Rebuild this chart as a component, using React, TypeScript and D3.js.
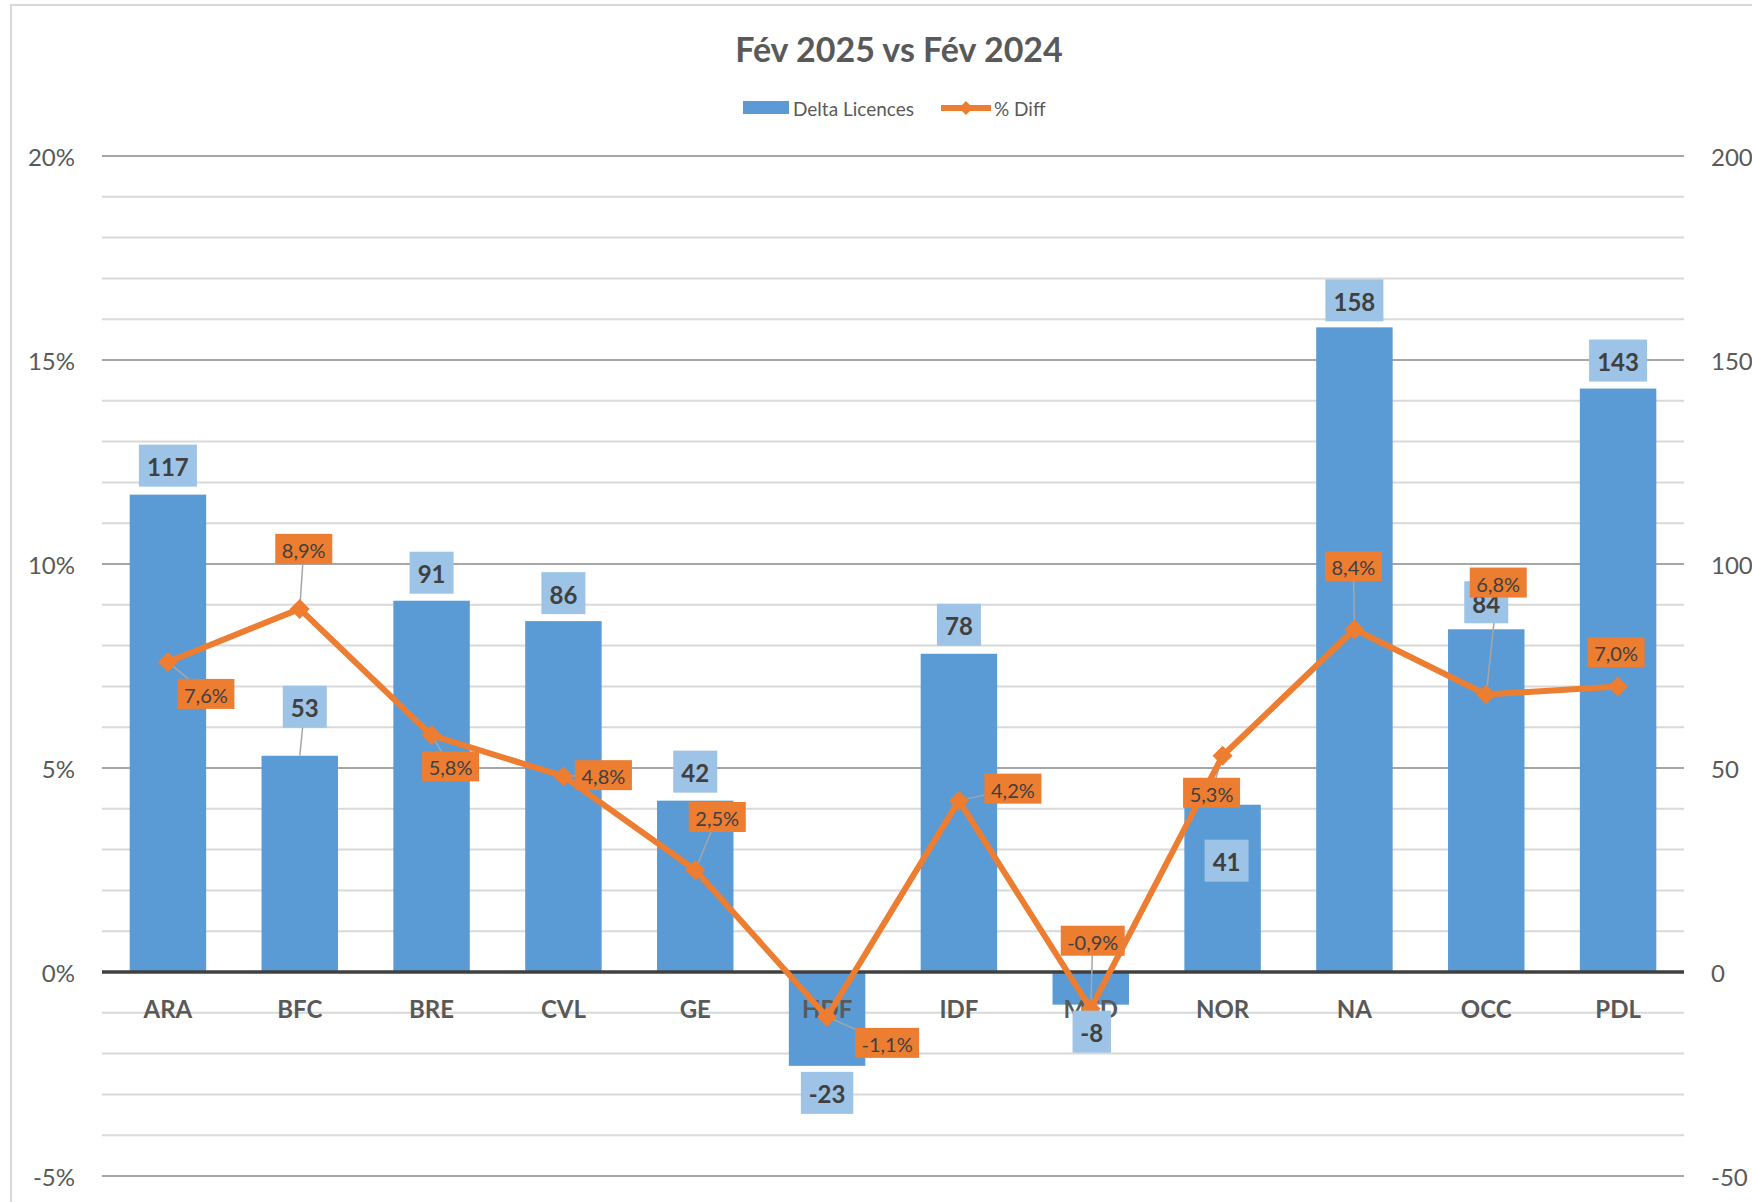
import React from "react";
import * as d3 from "d3";

const categories = ["ARA", "BFC", "BRE", "CVL", "GE", "HDF", "IDF", "MED", "NOR", "NA", "OCC", "PDL"];
const deltaLicences = [117, 53, 91, 86, 42, -23, 78, -8, 41, 158, 84, 143];
const pctDiff = [0.076, 0.089, 0.058, 0.048, 0.025, -0.011, 0.042, -0.009, 0.053, 0.084, 0.068, 0.07];
const leftTicks = [-0.05, 0, 0.05, 0.1, 0.15, 0.2];
const rightTicks = [-50, 0, 50, 100, 150, 200];

// hand-placed label offsets from the point (px): [dx, dy, showLeader]
const barLabelOffsets: [number, number, boolean][] = [
  [0, -29, false], [5, -49, true], [0, -28, false], [0, -28, false], [0, -29, false], [0, 27, false],
  [0, -29, false], [1, 27, false], [4, 56, false], [0, -27, false], [0, -27, false], [0, -28, false],
];
const lineLabelOffsets: [number, number, boolean][] = [
  [38, 32, true], [4, -60, true], [19, 31, true], [40, -1, true], [22, -53, true], [60, 26, true],
  [54, -12, true], [2, -68, true], [-11, 37, true], [-1, -63, true], [12, -112, true], [-2, -34, false],
];

const W = 1752;
const H = 1202;
const FONT = "Lato, 'Open Sans', sans-serif";

const fr = d3.formatLocale({ decimal: ",", thousands: " ", grouping: [3], currency: ["", " €"], minus: "-" });
const fmtPct1 = fr.format(".1%");
const fmtPct0 = fr.format(".0%");

const textW = (s: string, digit: number) =>
  s.split("").reduce((a, c) => a + (c === "-" ? digit * 0.6 : c === "," ? digit * 0.45 : c === "%" ? digit * 1.43 : digit), 0);

export default function App() {
  const x = d3.scaleBand<string>().domain(categories).range([102, 1684]).paddingInner(0.42).paddingOuter(0.21);
  const yL = d3.scaleLinear().domain([-0.05, 0.2]).range([1176, 156]);
  const yR = d3.scaleLinear().domain([-50, 200]).range([1176, 156]);
  const cx = (c: string) => (x(c) ?? 0) + x.bandwidth() / 2;

  const grid = d3.range(-5, 21).map((i) => i / 100);
  const line = d3
    .line<number>()
    .x((_, i) => cx(categories[i]))
    .y((d) => yL(d));
  const diamond = d3.symbol(d3.symbolSquare, 200)() ?? "";

  return (
    <div style={{ position: "absolute", left: 0, top: 0 }}>
      <svg width={W} height={H} style={{ display: "block", background: "#fff" }} fontFamily={FONT}>
        <rect x={11} y={5} width={W + 20} height={H + 20} fill="#fff" stroke="#D9D9D9" strokeWidth={2} />

        <text x={899} y={48} textAnchor="middle" dominantBaseline="central" fontSize={34} fontWeight="bold" fill="#595959">
          Fév 2025 vs Fév 2024
        </text>

        {/* legend */}
        <rect x={743} y={101} width={46} height={13} fill="#5B9BD5" />
        <text x={793} y={108} dominantBaseline="central" fontSize={19} fill="#595959">
          Delta Licences
        </text>
        <line x1={941} x2={991} y1={108} y2={108} stroke="#ED7D31" strokeWidth={6} />
        <path d={diamond} transform="translate(966,108) rotate(45) scale(0.7)" fill="#ED7D31" />
        <text x={994} y={108} dominantBaseline="central" fontSize={19} fill="#595959">
          % Diff
        </text>

        {/* gridlines */}
        {grid.map((g) => {
          const major = Math.abs(Math.round(g * 100) % 5) === 0;
          if (Math.abs(g) < 1e-9) return null;
          return (
            <line key={g} x1={102} x2={1684} y1={yL(g)} y2={yL(g)} stroke={major ? "#A6A6A6" : "#D9D9D9"} strokeWidth={2} />
          );
        })}

        {/* axis labels */}
        {leftTicks.map((t) => (
          <text key={t} x={75} y={yL(t)} textAnchor="end" dominantBaseline="central" fontSize={24} fill="#595959">
            {fmtPct0(t)}
          </text>
        ))}
        {rightTicks.map((t) => (
          <text key={t} x={1711} y={yR(t)} dominantBaseline="central" fontSize={24} fill="#595959">
            {t}
          </text>
        ))}

        {/* bars */}
        {deltaLicences.map((v, i) => (
          <rect
            key={categories[i]}
            x={x(categories[i])}
            y={Math.min(yR(v), yR(0))}
            width={x.bandwidth()}
            height={Math.abs(yR(v) - yR(0))}
            fill="#5B9BD5"
          />
        ))}

        <line x1={102} x2={1684} y1={yL(0)} y2={yL(0)} stroke="#404040" strokeWidth={3.5} />

        {categories.map((c) => (
          <text key={c} x={cx(c)} y={1008} textAnchor="middle" dominantBaseline="central" fontSize={24} fontWeight="bold" fill="#595959">
            {c}
          </text>
        ))}

        {/* leader lines */}
        {deltaLicences.map((v, i) => {
          const [dx, dy, show] = barLabelOffsets[i];
          if (!show) return null;
          const px = cx(categories[i]);
          const py = yR(v);
          return <line key={"bl" + i} x1={px} y1={py} x2={px + dx} y2={py + dy} stroke="#A6A6A6" strokeWidth={1.5} />;
        })}
        {pctDiff.map((v, i) => {
          const [dx, dy, show] = lineLabelOffsets[i];
          if (!show) return null;
          const px = cx(categories[i]);
          const py = yL(v);
          return <line key={"ll" + i} x1={px} y1={py} x2={px + dx} y2={py + dy} stroke="#A6A6A6" strokeWidth={1.5} />;
        })}

        {/* % diff line */}
        <path d={line(pctDiff) ?? ""} fill="none" stroke="#ED7D31" strokeWidth={6} strokeLinejoin="round" />
        {pctDiff.map((v, i) => (
          <path
            key={"m" + i}
            d={diamond}
            transform={`translate(${cx(categories[i])},${yL(v)}) rotate(45)`}
            fill="#ED7D31"
          />
        ))}

        {/* bar labels */}
        {deltaLicences.map((v, i) => {
          const [dx, dy] = barLabelOffsets[i];
          const s = String(v);
          const bw = textW(s, 14) + 16;
          const bx = cx(categories[i]) + dx;
          const by = yR(v) + dy;
          return (
            <g key={"bv" + i}>
              <rect x={bx - bw / 2} y={by - 21} width={bw} height={42} fill="#9DC3E6" />
              <text x={bx} y={by + 1} textAnchor="middle" dominantBaseline="central" fontSize={24} fontWeight="bold" fill="#404040">
                {s}
              </text>
            </g>
          );
        })}

        {/* % labels */}
        {pctDiff.map((v, i) => {
          const [dx, dy] = lineLabelOffsets[i];
          const s = fmtPct1(v);
          const bw = textW(s, 11.6) + 12;
          const bx = cx(categories[i]) + dx;
          const by = yL(v) + dy;
          return (
            <g key={"lv" + i}>
              <rect x={bx - bw / 2} y={by - 15} width={bw} height={30} fill="#ED7D31" />
              <text x={bx} y={by + 1} textAnchor="middle" dominantBaseline="central" fontSize={20} fill="#404040">
                {s}
              </text>
            </g>
          );
        })}
      </svg>
    </div>
  );
}
